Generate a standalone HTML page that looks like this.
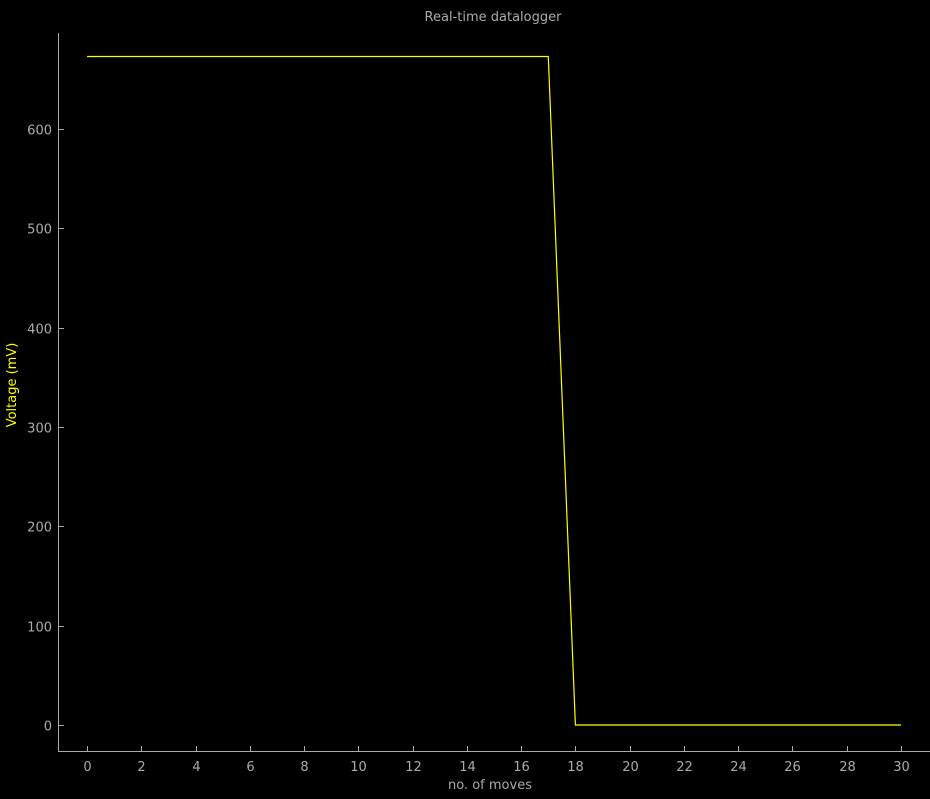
<!DOCTYPE html>
<html><head><meta charset="utf-8"><style>
body{margin:0;background:#000;}
svg text{font-family:"DejaVu Sans","Liberation Sans",sans-serif;}
</style></head><body>
<svg width="930" height="794">
<g id="ax"></g>
<text x="493" y="21" fill="#aaa" font-size="13" text-anchor="middle">Real-time datalogger</text>
<text x="490" y="789" fill="#aaa" font-size="13" text-anchor="middle">no. of moves</text>
<text transform="translate(16,385) rotate(-90)" fill="#ffff00" font-size="13" text-anchor="middle">Voltage (mV)</text>
<path id="line" fill="none" stroke="#ffff00" stroke-width="1.2"/>
</svg>
<script>
const xs=[0,1,2,3,4,5,6,7,8,9,10,11,12,13,14,15,16,17,18,19,20,21,22,23,24,25,26,27,28,29,30];
const voltage=[673,673,673,673,673,673,673,673,673,673,673,673,673,673,673,673,673,673,0,0,0,0,0,0,0,0,0,0,0,0,0];
const xTicks=[0,2,4,6,8,10,12,14,16,18,20,22,24,26,28,30];
const yTicks=[0,100,200,300,400,500,600];
const X=v=>87+v*(901-87)/30;
const Y=v=>725-v*(725-129)/600;
const NS='http://www.w3.org/2000/svg';
const ax=document.getElementById('ax');
function mk(t,a){const e=document.createElementNS(NS,t);for(const k in a)e.setAttribute(k,a[k]);ax.appendChild(e);return e;}
let l=mk('line',{x1:58.5,y1:33,x2:58.5,y2:751.5,stroke:'#aaa','stroke-width':1});


l=mk('line',{x1:58,y1:751.5,x2:930,y2:751.5,stroke:'#aaa','stroke-width':1});


xTicks.forEach(v=>{
 const x=Math.round(X(v))+0.5;
 const t=mk('line',{x1:x,y1:751,x2:x,y2:746,stroke:'#aaa'});
 
 
 const tx=mk('text',{x:x,y:771,fill:'#aaa','font-size':13,'text-anchor':'middle'});tx.textContent=v;
 
 
});
yTicks.forEach(v=>{
 const y=Math.round(Y(v))+0.5;
 const t=mk('line',{x1:58,y1:y,x2:64,y2:y,stroke:'#aaa'});
 
 
 const tx=mk('text',{x:52,y:y+5,fill:'#aaa','font-size':13,'text-anchor':'end'});tx.textContent=v;
 
 
});
document.getElementById('line').setAttribute('d',xs.map((x,i)=>(i?'L':'M')+X(x)+','+Y(voltage[i])).join(''));
</script>
</body></html>
